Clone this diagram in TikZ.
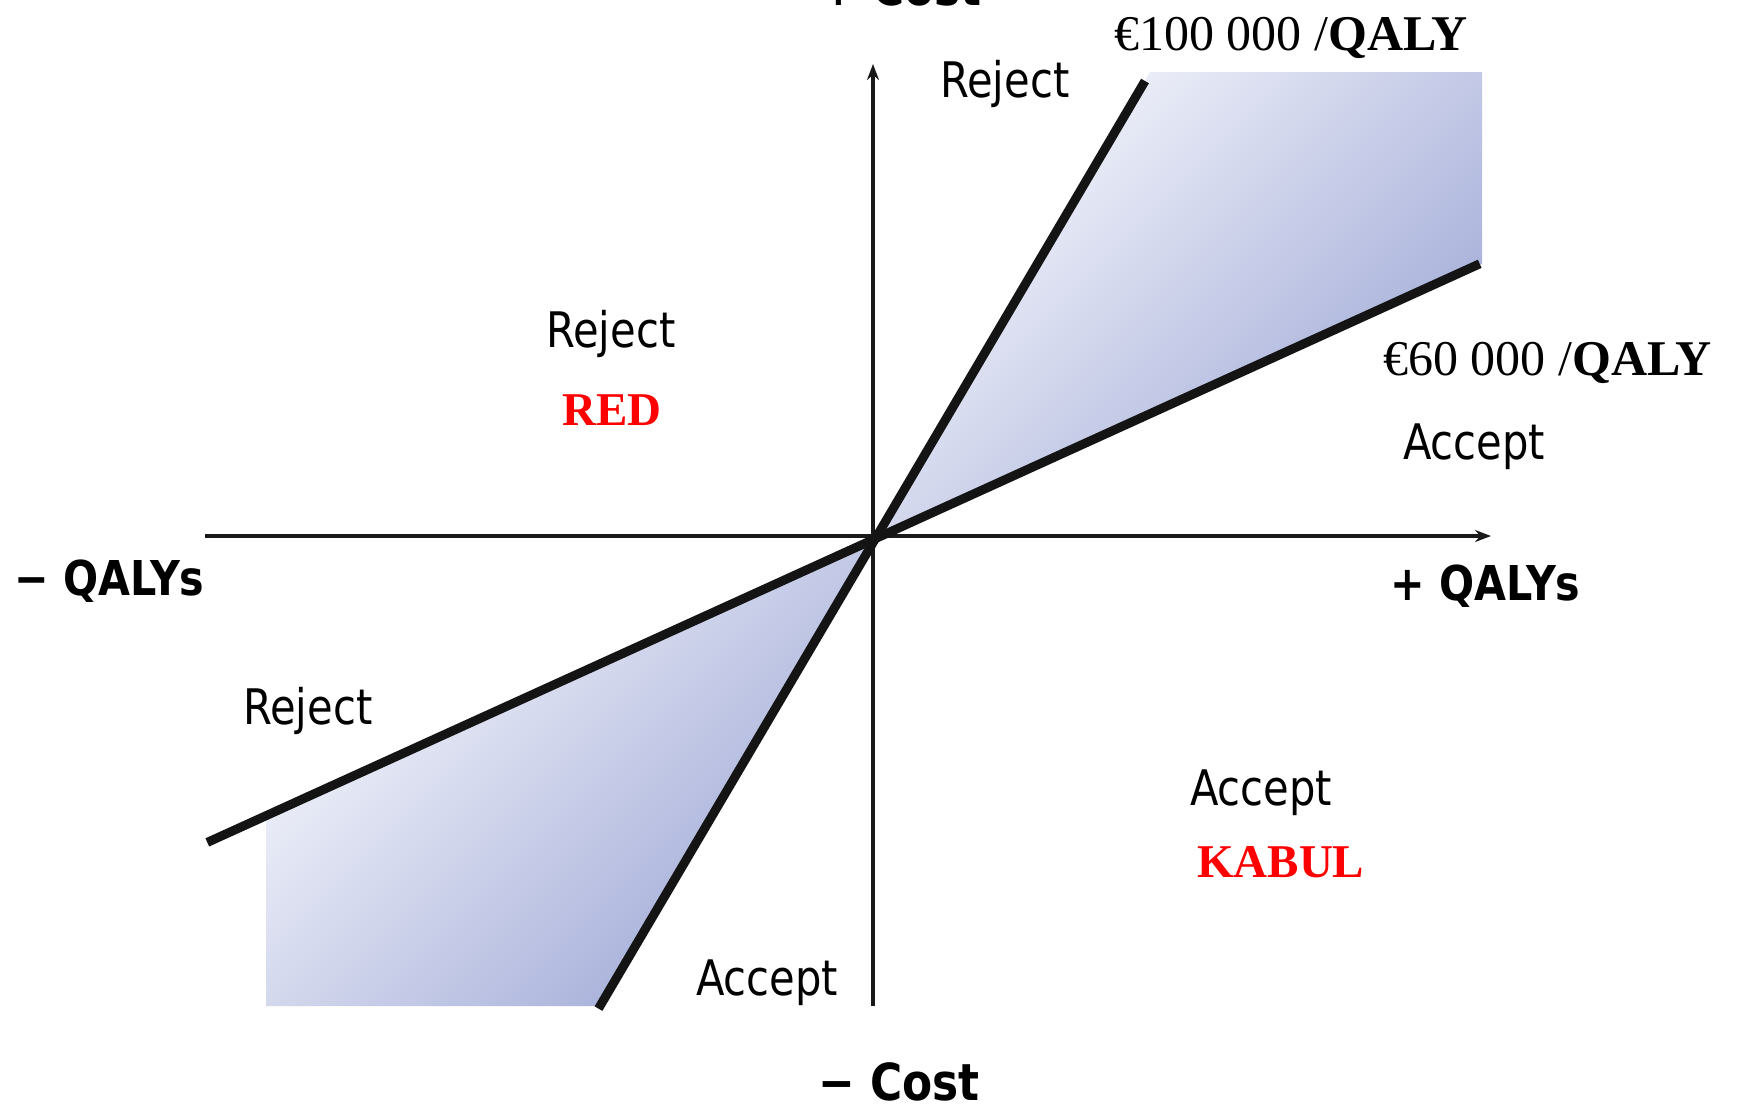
\documentclass[tikz,border=0pt]{standalone}
\usepackage{fontspec}
\setmainfont{Liberation Serif}
\newfontfamily\lblfont[FakeStretch=0.85]{DejaVu Sans}
\newfontfamily\axfont[FakeStretch=0.86]{DejaVu Sans}
\usetikzlibrary{arrows.meta}
\definecolor{shlight}{RGB}{248,249,253}
\definecolor{shdark}{RGB}{158,168,214}
\definecolor{lblred}{RGB}{255,0,0}
\begin{document}
\begin{tikzpicture}[x=1pt,y=-1pt,
  lbl/.style={inner sep=0pt,anchor=base west,font=\lblfont\fontsize{49}{55}\selectfont},
  axlbl/.style={inner sep=0pt,anchor=base west,font=\axfont\bfseries\fontsize{48}{54}\selectfont},
  costlbl/.style={inner sep=0pt,anchor=base west,font=\axfont\bfseries\fontsize{51}{57}\selectfont},
  rate/.style={inner sep=0pt,anchor=base west,font=\fontsize{50}{56}\selectfont},
  redlbl/.style={inner sep=0pt,anchor=base west,text=lblred,font=\bfseries\fontsize{47}{53}\selectfont},
  thr/.style={line width=9pt,black!92},
  axis/.style={line width=3.3pt,black!90,-{Stealth[length=16pt,width=12pt]}},
  shadebox/.style={shading=axis,top color=shlight,bottom color=shdark,shading angle=45}]
\useasboundingbox (0,0) rectangle (1738,1112);
\fill[white] (0,0) rectangle (1738,1112);
% key points
\coordinate (O) at (873,536);
\coordinate (t100) at (1145,81);
\coordinate (b100) at (598.5,1008.6);
\coordinate (t60) at (1479.7,263.8);
\coordinate (b60) at (207.3,842.4);
\coordinate (ytop) at (873,64);
\coordinate (ybot) at (873,1006);
\coordinate (xl) at (205,536);
\coordinate (xr) at (1491,536);
% shaded regions
\shade[shadebox] (O) -- (1150,72) -- (1482,72) -- (1482,264) -- cycle;
\shade[shadebox] (O) -- (266,815.7) -- (266,1006) -- (600,1006) -- cycle;
% axes
\draw[axis] (ybot) -- (ytop);
\draw[axis] (xl) -- (xr);
% threshold lines
\draw[thr] (t100) -- (b100);
\draw[thr] (t60) -- (b60);
% labels
\node[costlbl] (costpos) at (820,5) {+ Cost};
\node[costlbl] (costneg) at (818,1100) {− Cost};
\node[axlbl] (qneg) at (14,595) {− QALYs};
\node[axlbl] (qpos) at (1390,600) {+ QALYs};
\node[rate] (r100) at (1114,50) {€100 000 /\textbf{QALY}};
\node[rate] (r60) at (1383,375) {€60 000 /\textbf{QALY}};
\node[lbl] (rejtop) at (940,97.5) {Reject};
\node[lbl] (rejmid) at (546,347) {Reject};
\node[redlbl] (red) at (562,425) {RED};
\node[lbl] (accr) at (1403,459) {Accept};
\node[lbl] (rejl) at (243,724) {Reject};
\node[lbl] (acclr) at (1190,805) {Accept};
\node[redlbl] (kabul) at (1197,877) {KABUL};
\node[lbl] (accb) at (696,995) {Accept};
\end{tikzpicture}
\end{document}
